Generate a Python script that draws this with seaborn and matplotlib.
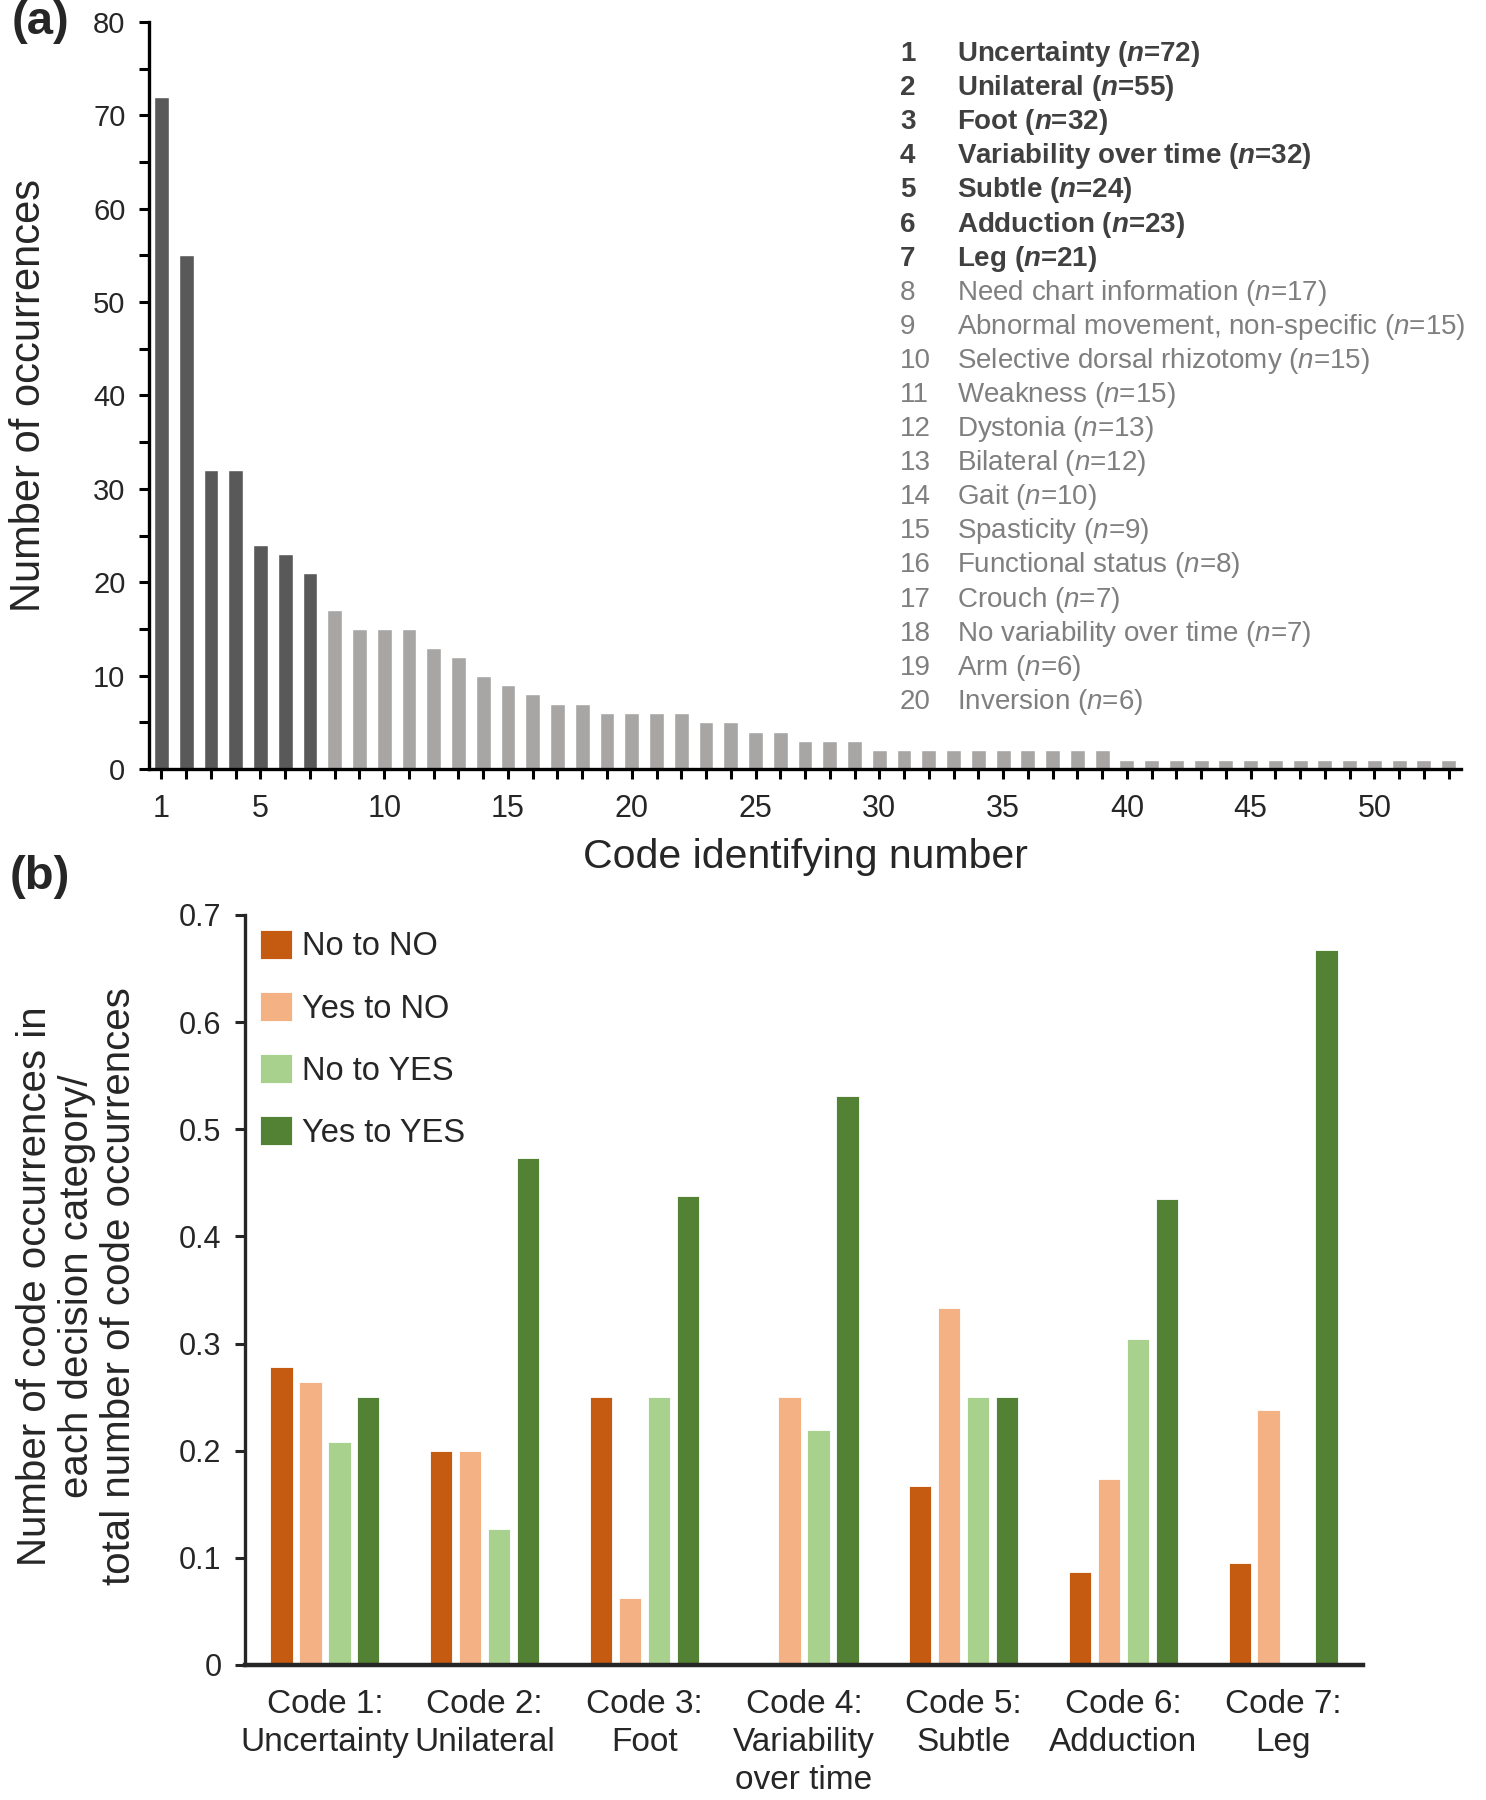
import matplotlib
matplotlib.use("Agg")
import matplotlib.pyplot as plt
import numpy as np
import pandas as pd
import seaborn as sns

# ---- data panel (a): occurrences per code
codes_a = list(range(1, 54))
counts_a = [72, 55, 32, 32, 24, 23, 21, 17, 15, 15, 15, 13, 12, 10, 9, 8, 7, 7, 6, 6,
            6, 6, 5, 5, 4, 4, 3, 3, 3] + [2] * 10 + [1] * 14
groups_a = ["top"] * 7 + ["rest"] * 46
code_names = ["Uncertainty", "Unilateral", "Foot", "Variability over time", "Subtle",
              "Adduction", "Leg", "Need chart information", "Abnormal movement, non-specific",
              "Selective dorsal rhizotomy", "Weakness", "Dystonia", "Bilateral", "Gait",
              "Spasticity", "Functional status", "Crouch", "No variability over time",
              "Arm", "Inversion"]

# ---- data panel (b): share of code occurrences per decision category
code_labels_b = ["Code 1:\nUncertainty", "Code 2:\nUnilateral", "Code 3:\nFoot",
                 "Code 4:\nVariability\nover time", "Code 5:\nSubtle", "Code 6:\nAdduction",
                 "Code 7:\nLeg"]
decisions = ["No to NO", "Yes to NO", "No to YES", "Yes to YES"]
no_to_no = [0.278, 0.200, 0.250, 0.0, 0.167, 0.087, 0.095]
yes_to_no = [0.264, 0.200, 0.0625, 0.250, 0.333, 0.174, 0.238]
no_to_yes = [0.208, 0.127, 0.250, 0.219, 0.250, 0.304, 0.0]
yes_to_yes = [0.250, 0.473, 0.4375, 0.531, 0.250, 0.435, 0.667]
colors_b = ["#C55A11", "#F4B183", "#A9D18E", "#548235"]

sns.set_style("ticks")
plt.rcParams["font.family"] = ["Liberation Sans", "DejaVu Sans"]
plt.rcParams["mathtext.fontset"] = "custom"
plt.rcParams["mathtext.it"] = "Liberation Sans:italic"
plt.rcParams["mathtext.rm"] = "Liberation Sans"
plt.rcParams["mathtext.bfit"] = "Liberation Sans:bold:italic"

fig = plt.figure(figsize=(14.86, 18), dpi=100)
ax1 = fig.add_axes([0.1003, 0.5728, 0.8829, 0.415])
ax2 = fig.add_axes([0.1649, 0.075, 0.7523, 0.4167])

# ---------------- panel (a)
df_a = pd.DataFrame({"code": codes_a, "count": counts_a, "group": groups_a})
sns.barplot(data=df_a, x="code", y="count", hue="group", native_scale=True, dodge=False,
            palette={"top": "#595959", "rest": "#A8A5A5"}, saturation=1, width=0.6,
            legend=False, ax=ax1)
ax1.set_xlim(0.5, 53.5)
ax1.set_ylim(0, 80)
ax1.set_xticks([1, 5, 10, 15, 20, 25, 30, 35, 40, 45, 50])
ax1.set_xticks(codes_a, minor=True)
ax1.set_yticks(range(0, 81, 10))
ax1.set_yticks(range(5, 80, 10), minor=True)
ax1.tick_params(which="both", direction="out", length=7, width=2.2, color="black")
ax1.tick_params(axis="x", pad=11, labelsize=22)
ax1.tick_params(axis="y", labelsize=21, pad=10)
ax1.set_xlabel("Code identifying number", fontsize=29.5, labelpad=10)
ax1.set_ylabel("")
fig.text(0.0195, 0.78, "Number of occurrences", rotation=90, ha="center", va="center",
         fontsize=30)
for s in ["top", "right"]:
    ax1.spines[s].set_visible(False)
for s in ["left", "bottom"]:
    ax1.spines[s].set_linewidth(2.4)
    ax1.spines[s].set_color("black")

# list of codes
for i, (name, n) in enumerate(zip(code_names, counts_a[:20])):
    y = 1 - (54 + i * 34.1) / 1800
    if i < 7:
        col, wt, nn = "#404040", "bold", r"$\mathbfit{n}$"
    else:
        col, wt, nn = "#7F7F7F", "normal", r"$\mathit{n}$"
    fig.text(0.6057, y, str(i + 1), ha="left", va="center", fontsize=20, color=col, weight=wt)
    fig.text(0.644, y, f"{name} ({nn}={n})", ha="left", va="center", fontsize=20,
             color=col, weight=wt)

fig.text(0.027, 0.988, "(a)", ha="center", va="center", fontsize=34, weight="bold")
fig.text(0.027, 0.513, "(b)", ha="center", va="center", fontsize=34, weight="bold")

# ---------------- panel (b)
df_b = pd.DataFrame({
    "code": code_labels_b * 4,
    "decision": [d for d in decisions for _ in code_labels_b],
    "ratio": no_to_no + yes_to_no + no_to_yes + yes_to_yes,
})
sns.barplot(data=df_b, x="code", y="ratio", hue="decision", order=code_labels_b,
            hue_order=decisions, palette=colors_b, saturation=1, width=0.725, gap=0.23,
            edgecolor="white", linewidth=0.6, ax=ax2)
ax2.set_xlim(-0.5, 6.5)
ax2.set_ylim(0, 0.7)
yt = [0, 0.1, 0.2, 0.3, 0.4, 0.5, 0.6, 0.7]
ax2.set_yticks(yt)
ax2.set_yticklabels(["0", "0.1", "0.2", "0.3", "0.4", "0.5", "0.6", "0.7"])
ax2.tick_params(axis="y", direction="out", length=7, width=2.2, labelsize=22, pad=10)
ax2.tick_params(axis="x", length=0, pad=17, labelsize=24)
for lab in ax2.get_xticklabels():
    lab.set_linespacing(1.3)
ax2.set_xlabel("")
ax2.set_ylabel("")
fig.text(0.0518, 0.2856,
         "Number of code occurrences in\neach decision category/\ntotal number of code occurrences",
         rotation=90, ha="center", va="center", fontsize=29, linespacing=1.12,
         multialignment="center")
for s in ["top", "right"]:
    ax2.spines[s].set_visible(False)
ax2.spines["left"].set_linewidth(2.4)
ax2.spines["bottom"].set_linewidth(3.2)
ax2.legend(title=None, loc="upper left", bbox_to_anchor=(0.0, 1.0), frameon=False,
           prop={"size": 23.5}, handlelength=1.0, handleheight=1.0, handletextpad=0.3,
           labelspacing=0.9, borderaxespad=0.15, borderpad=0.3)

fig.savefig("out.png", dpi=100)
